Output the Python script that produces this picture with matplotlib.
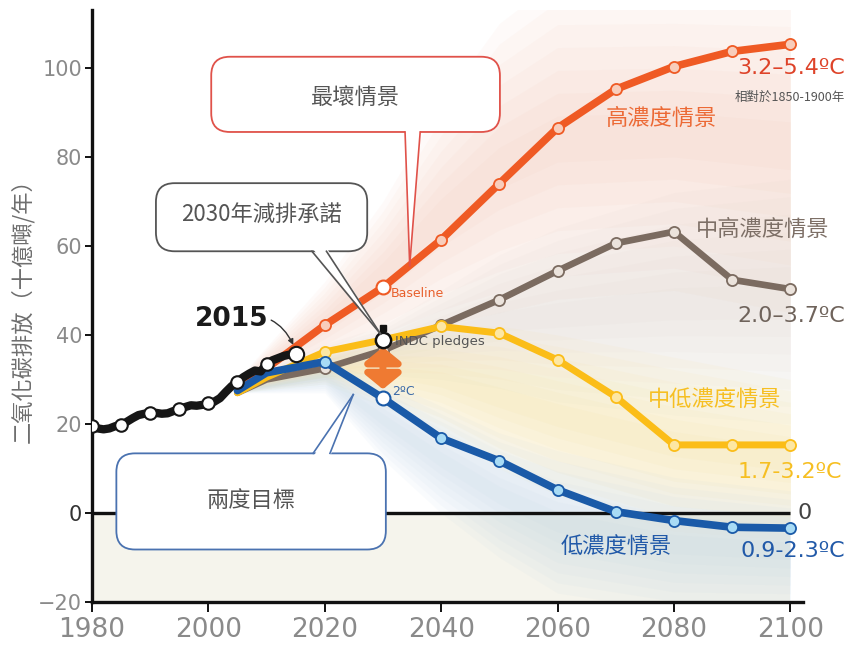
import matplotlib
matplotlib.use("Agg")
import matplotlib.pyplot as plt
from matplotlib.patches import FancyBboxPatch, Polygon
import numpy as np

plt.rcParams['font.family'] = ['DejaVu Sans', 'Noto Sans CJK TC']
CJK = ['Noto Sans CJK TC', 'DejaVu Sans']

# ---------------- data ----------------
hist_years = list(range(1980, 2016))
hist_vals = [19.6, 19.0, 18.8, 19.0, 19.5, 19.8, 20.5, 21.3, 22.0, 22.3,
             22.4, 22.5, 22.3, 22.4, 22.9, 23.3, 23.8, 24.2, 24.1, 24.3,
             24.7, 25.0, 25.8, 27.2, 28.5, 29.5, 30.5, 31.3, 32.0, 31.8,
             33.5, 34.3, 34.8, 35.3, 35.6, 35.7]
hist_marker_years = [1980, 1985, 1990, 1995, 2000, 2005, 2010, 2015]

scen_years = [2005, 2010, 2020, 2030, 2040, 2050, 2060, 2070, 2080, 2090, 2100]
high_vals = [28.5, 32.5, 42.2, 50.7, 61.4, 74.0, 86.5, 95.2, 100.3, 103.7, 105.3]
midhigh_vals = [27.0, 30.0, 32.5, 36.5, 42.2, 47.9, 54.4, 60.6, 63.2, 52.4, 50.3]
midlow_vals = [27.0, 30.5, 36.2, 38.9, 41.9, 40.4, 34.4, 26.1, 15.3, 15.3, 15.3]
low_vals = [27.5, 31.5, 34.0, 25.8, 16.8, 11.7, 5.2, 0.3, -1.7, -3.2, -3.4]
marker_years = [2020, 2030, 2040, 2050, 2060, 2070, 2080, 2090, 2100]

# faint scenario fans (envelopes)
fan_years = [2005, 2020, 2030, 2040, 2050, 2060, 2080, 2100]
fan_high_lo = [28, 34, 38, 42, 45, 48, 50, 45]
fan_high_hi = [30, 52, 70, 92, 110, 120, 120, 120]
fan_mid_lo = [27, 30, 31, 30, 28, 25, 22, 20]
fan_mid_hi = [29, 38, 42, 50, 58, 64, 72, 75]
fan_yel_lo = [27, 29, 24, 18, 10, 4, -4, -6]
fan_yel_hi = [29, 36, 40, 42, 42, 40, 35, 30]
fan_blu_lo = [27, 27, 12, 0, -10, -18, -22, -22]
fan_blu_hi = [28, 34, 30, 24, 18, 14, 8, 5]

yticks = [-20, 0, 20, 40, 60, 80, 100]
ytick_labels = ['\u221220', '0', '20', '40', '60', '80', '100']
xticks = [1980, 2000, 2020, 2040, 2060, 2080, 2100]

# ---------------- figure ----------------
fig = plt.figure(figsize=(8.59, 6.5), dpi=100)
ax = fig.add_axes([0.107, 0.0738, 0.828, 0.9108])
ax.set_xlim(1980, 2102.2)
ax.set_ylim(-20, 113)

# background below zero
ax.fill_between([1980, 2100], [-20, -20], [0, 0], color='#f5f4ec', zorder=0, lw=0)

# fans drawn as soft gradients (layers shrinking toward the centre)
def fan(lo, hi, color, alpha, n=7):
    lo = np.array(lo, float)
    hi = np.array(hi, float)
    mid = (lo + hi) / 2
    for k in range(n):
        f = k / n
        ax.fill_between(fan_years, lo + (mid - lo) * f, hi - (hi - mid) * f,
                        color=color, alpha=alpha, lw=0, zorder=1)

fan(fan_high_lo, fan_high_hi, '#f4a283', 0.045)
fan(fan_mid_lo, fan_mid_hi, '#cfc2b6', 0.05)
fan(fan_yel_lo, fan_yel_hi, '#f5dc8a', 0.07)
fan(fan_blu_lo, fan_blu_hi, '#b7d0e4', 0.07)

# zero line
ax.plot([1980, 2100], [0, 0], color='#111111', lw=2.4, zorder=2, solid_capstyle='butt')

def scen(vals, color, face, lw, z):
    ax.plot(scen_years, vals, color=color, lw=lw, zorder=z, solid_joinstyle='round',
            solid_capstyle='round')
    mv = [v for y, v in zip(scen_years, vals) if y in marker_years]
    ax.plot(marker_years, mv, ls='none', marker='o', ms=8, mfc=face, mec=color,
            mew=1.3, zorder=z + 0.1)

scen(midhigh_vals, '#7b6b60', '#ebe3dc', 4.8, 3)
scen(midlow_vals, '#fbbd18', '#fde7a3', 5.0, 3.2)
scen(high_vals, '#ef5a24', '#f8cdbb', 5.5, 3.4)
scen(low_vals, '#1a5aa8', '#a8dbf5', 5.5, 3.6)

# historical
ax.plot(hist_years, hist_vals, color='#161616', lw=6.0, zorder=4, solid_joinstyle='round',
        solid_capstyle='round')
hm = [v for y, v in zip(hist_years, hist_vals) if y in hist_marker_years]
ax.plot(hist_marker_years[:-1], hm[:-1], ls='none', marker='o', ms=9, mfc='white',
        mec='#161616', mew=1.5, zorder=4.1)
ax.plot([2015], [hm[-1]], ls='none', marker='o', ms=11, mfc='white', mec='#161616',
        mew=1.5, zorder=4.2)

# special points
ax.plot([2030], [high_vals[3]], ls='none', marker='o', ms=10, mfc='white',
        mec='#ef5a24', mew=1.5, zorder=4.5)
ax.plot([2030], [low_vals[3]], ls='none', marker='o', ms=10, mfc='white',
        mec='#1a5aa8', mew=1.5, zorder=4.5)
ax.plot([2030], [41.6], ls='none', marker='s', ms=5, color='#111111', zorder=4.4)
ax.plot([2030], [midlow_vals[3]], ls='none', marker='o', ms=11, mfc='white',
        mec='#111111', mew=1.8, zorder=4.6)

# double arrow
ax.annotate('', xy=(2030, 27.8), xytext=(2030, 37.3),
            arrowprops=dict(arrowstyle='<|-|>,head_width=0.55,head_length=0.45',
                            color='#ef7a32', lw=5, mutation_scale=20,
                            shrinkA=0, shrinkB=0), zorder=4.3)

ax.text(2031.4, high_vals[3] - 1.3, 'Baseline', color='#e8602c', fontsize=9,
        va='center', ha='left', zorder=6)
ax.text(2032.0, midlow_vals[3] - 0.3, 'INDC pledges', color='#555555', fontsize=9.5,
        va='center', ha='left', zorder=6)
ax.text(2031.6, low_vals[3] + 1.6, '2ºC', color='#3b6aa8', fontsize=9,
        va='center', ha='left', zorder=6)

# 2015 label
ax.annotate('2015', xy=(2014.8, 37.2), xytext=(2004.0, 43.5), fontsize=19,
            fontweight='bold', color='#1a1a1a', ha='center', va='center',
            arrowprops=dict(arrowstyle='-|>', color='#333333', lw=1.0,
                            connectionstyle='arc3,rad=-0.45', shrinkA=30, shrinkB=2,
                            mutation_scale=8), zorder=6)

# callouts
ASPECT = 5.817 / 4.45

def callout(x0, x1, y0, y1, bx0, bx1, by, tip, color, text, tx, ty):
    box = FancyBboxPatch((x0, y0), x1 - x0, y1 - y0,
                         boxstyle='round,pad=0,rounding_size=3.2',
                         mutation_aspect=ASPECT, fc='white', ec=color, lw=1.3,
                         zorder=7)
    ax.add_patch(box)
    inward = 1.0 if by == y0 else -1.0
    poly = Polygon([(bx0, by + inward * 0.8), (bx1, by + inward * 0.8), tip],
                   closed=True, fc='white', ec='none', zorder=7.1)
    ax.add_patch(poly)
    ax.plot([bx0, tip[0]], [by, tip[1]], color=color, lw=1.2, zorder=7.2)
    ax.plot([bx1, tip[0]], [by, tip[1]], color=color, lw=1.2, zorder=7.2)
    ax.text(tx, ty, text, fontsize=16, color='#555555', family=CJK,
            ha='center', va='center', zorder=7.3)

callout(2000.5, 2050.1, 85.6, 102.5, 2033.8, 2036.4, 85.6, (2034.6, 55.6),
        '#e0524a', '最壞情景', 2025.2, 93.2)
callout(1991.0, 2027.3, 58.8, 74.1, 2017.8, 2020.3, 58.8, (2029.6, 40.2),
        '#555555', '2030年減排承諾', 2009.2, 67.0)
callout(1984.2, 2030.5, -8.2, 13.4, 2018.0, 2020.9, 13.4, (2024.9, 26.6),
        '#4a72b0', '兩度目標', 2007.4, 2.9)

# right-hand labels
def lab(x, y, s, color, size, cjk=False, **kw):
    ax.text(x, y, s, color=color, fontsize=size, va='center', ha='left',
            clip_on=False, zorder=6, family=CJK if cjk else None, **kw)

lab(2090.9, 100.0, '3.2\u20135.4ºC', '#de4329', 16)
lab(2090.5, 93.4, '相對於1850-1900年', '#555555', 9, cjk=True)
lab(2068.2, 88.8, '高濃度情景', '#ec6a36', 16, cjk=True)
lab(2083.7, 63.8, '中高濃度情景', '#7d6f66', 16, cjk=True)
lab(2090.9, 44.3, '2.0\u20133.7ºC', '#6f635b', 16)
lab(2075.6, 25.4, '中低濃度情景', '#f6bf22', 16, cjk=True)
lab(2091.0, 9.2, '1.7-3.2ºC', '#f6bf22', 16)
lab(2101.2, 0.0, '0', '#444444', 16)
lab(2060.5, -7.6, '低濃度情景', '#2159a8', 16, cjk=True)
lab(2091.4, -8.5, '0.9-2.3ºC', '#2159a8', 16)

# axes styling
for s in ['top', 'right']:
    ax.spines[s].set_visible(False)
ax.spines['left'].set_linewidth(2.4)
ax.spines['bottom'].set_linewidth(2.4)
ax.spines['left'].set_color('#111111')
ax.spines['bottom'].set_color('#111111')
ax.set_yticks(yticks)
ax.set_yticklabels(ytick_labels)
ax.set_xticks(xticks)
ax.set_xticklabels([str(x) for x in xticks], family=['Liberation Sans Narrow', 'DejaVu Sans'])
ax.tick_params(axis='y', direction='out', length=5, width=1.4, color='#111111',
               labelsize=15, labelcolor='#8a8a8a', pad=2)
ax.tick_params(axis='x', direction='out', length=7, width=1.4, color='#111111',
               labelsize=19, labelcolor='#8a8a8a', pad=4)
for t in ax.get_yticklabels():
    if t.get_text() == '0':
        t.set_color('#333333')

fig.text(0.026, 0.53, '二氧化碳排放（十億噸/年）', rotation=90, fontsize=16,
         color='#6e6e6e', family=CJK, ha='center', va='center')

fig.savefig('out.png', dpi=100)
